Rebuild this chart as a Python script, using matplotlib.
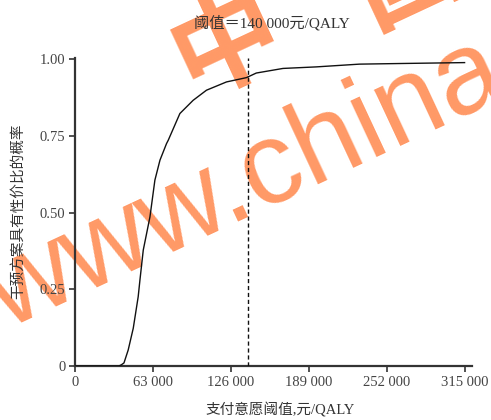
import matplotlib
matplotlib.use("Agg")
import matplotlib.pyplot as plt

plt.rcParams['font.family'] = ['Liberation Serif', 'Noto Sans CJK SC', 'DejaVu Sans']

# Data
wtp = [0, 35500, 37500, 39600, 43000, 47100, 51100, 52500, 55200, 60600, 64600,
       68700, 74000, 75400, 84800, 95500, 106300, 122500, 138600, 146600,
       168200, 195000, 230000, 262500, 315000]
prob = [0.0, 0.0, 0.004, 0.010, 0.052, 0.123, 0.226, 0.280, 0.378, 0.486, 0.606,
        0.671, 0.725, 0.736, 0.823, 0.866, 0.899, 0.926, 0.940, 0.955,
        0.970, 0.975, 0.984, 0.986, 0.989]
threshold = 140000
xticks = [0, 63000, 126000, 189000, 252000, 315000]
xticklabels = ['0', '63 000', '126 000', '189 000', '252 000', '315 000']
yticks = [0, 0.25, 0.5, 0.75, 1.0]
yticklabels = ['0', '0.25', '0.50', '0.75', '1.00']
title = '阈值＝140 000元/QALY'
xlabel = '支付意愿阈值,元/QALY'
ylabel = '干预方案具有性价比的概率'

fig = plt.figure(figsize=(4.91, 4.20), dpi=100)

# watermark (drawn beneath the chart)
wm = '#FF9966'
fig.text(246/491, 1 - 185/420, 'www.china', ha='center', va='center', rotation=25,
         fontsize=84, color=wm, family='Liberation Sans', zorder=-5)
fig.text(227/491, 1 - 45/420, '中', ha='center', va='center', rotation=25,
         fontsize=78, color=wm, family='Noto Sans CJK SC', fontweight='bold', zorder=-5)
fig.text(407/491, 1 - (-25)/420, '国', ha='center', va='center', rotation=25,
         fontsize=78, color=wm, family='Noto Sans CJK SC', fontweight='bold', zorder=-5)

ax = fig.add_axes([75/491, 54/420, (472-75)/491, (366-58)/420])
ax.set_facecolor('none')
ax.set_zorder(1)

ax.plot(wtp, prob, color='#111111', lw=1.0, zorder=3)
ax.axvline(threshold, ymin=0, ymax=1, color='#111111', lw=1.0, ls=(0, (3, 2)), zorder=3)

ax.set_xlim(0, 321000)
ax.set_ylim(0, 1.004)
ax.set_xticks(xticks)
ax.set_xticklabels(xticklabels)
ax.set_yticks(yticks)
ax.set_yticklabels(yticklabels)

for s in ['top', 'right']:
    ax.spines[s].set_visible(False)
for s in ['left', 'bottom']:
    ax.spines[s].set_color('#333333')
    ax.spines[s].set_linewidth(1.6)
ax.tick_params(direction='out', length=4, width=1.2, colors='#333333',
               labelsize=10.5, labelcolor='#444444', pad=3)

fig.text(272/491, 1 - 23/420, title, ha='center', va='center', fontsize=11, color='#333333', zorder=5)
fig.text(280/491, 1 - 410/420, xlabel, ha='center', va='center', fontsize=10.5, color='#333333', zorder=5)
fig.text(18/491, 1 - 211/420, ylabel, ha='center', va='center', rotation=90, fontsize=10.5, color='#333333', zorder=5)

fig.savefig('out.png', dpi=100)
